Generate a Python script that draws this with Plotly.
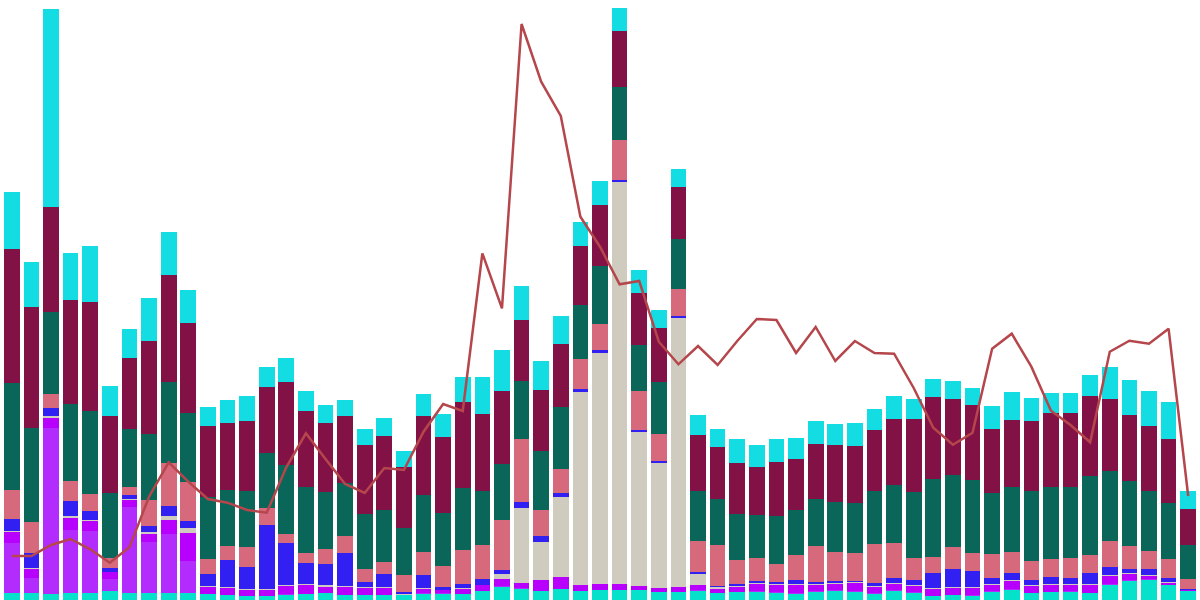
import plotly.graph_objects as go

periods = list(range(1, 62))

turquoise = [7.3,7.3,6.3,7.3,7.3,9.3,7.3,7.3,7.3,7.3, 6,5,4,4,5.3,6,7,5,5,5,
             5,6.3,6.3,6,9,13.5,11.5,9,11,9, 10,10,10,8,8,9.5,7,8,8,7,
             6,8,9,8,6,9,7,4,5,4.5, 8,10,7,8,8,7,15,19,20,15, 9]
light_purple = [50,15,166,62.7,61.7,11.7,85.7,50.7,58.7,31.7, 0.5,0.5,0.5,0.5,0.5,0.5,0.5,0.5,0.5,0.5,
                0.3,0.5,0.5,0.5,0.5,0.5,0.5,0.5,0.5,0.5, 0.5,0.5,0.5,0.5,0.5,0.5,0.5,0.5,1,1,
                1,1,1,1,1,1,1,0.5,0.5,0.5, 1,1,0.5,0.5,1,0.5,1,1,1,0.5, 0.5]
bright_purple = [11,8.7,10,12,10.3,7,7,8.3,14,28, 6.8,6.5,5.8,6.2,8.5,8.5,5.8,7.5,6.8,7.2,
                 0.3,4.2,3.2,4.5,5.5,7,5,10.5,11.5,5.5, 5.5,5.5,3.5,3.5,4.5,5,3.5,4.5,7,7.5,
                 8,6.5,6.5,8,6.5,6,6,7,7,7.5, 6,8.5,7,6.5,6.5,8,8.5,6.5,3.5,2.2, 0.5]
beige = [0.7,1,1.7,2,0.7,0.3,1,1.7,4.3,5, 0.7,0.7,0.7,0.3,0.7,1,1.7,1,0.7,0.3,
         0.7,1,0.3,1,0.5,5,75,38,80,193, 231,402,154,125,269,11,2,1,1,0.5,
         1,0.5,0.5,1,0.5,1,1,0.5,0.5,0.5, 1,0.5,0.5,1,0.5,0.5,0.5,0.5,0.5,0.3, 0.3]
blue = [12,15.3,8,15,9,4,4,6.3,9.7,7, 12,27.3,22,64,42,21,21,33,5,13,
        2,13,2.7,4,5.5,4,6,6,4,3, 3,2,2,2,2,2,1,2,2,2,
        4,2,2,1,3,5,5,15,18,16, 6,7,5,7,6,11,8,4,6,4, 0.7]
pink = [29,31,14,20,17,9.4,8.3,26,43.3,39, 15,14.3,20,17,9,10,15,17.3,13,12,
        16.7,23,21,34,34,50,63,26,24,30, 26,40,39,27,27,31,41,24,23,18,
        25,36,29,28,39,35,22,16,22,18, 24,21,19,18,20,18,26,23,18,19, 10]
green = [107,94,82.3,77,83,65,57.7,66,81,69.3, 61.7,55.7,56,55,69,65.7,57,52.7,55,52,
         47.3,56.7,53,62,54,56,58,59,62,54, 58,53,46,52,50,50,46,46,43,48,
         45,47,50,50,53,58,66,78,72,73, 61,65,70,72,71,79,70,65,60,56, 34]
maroon = [134,120.7,105,104,109,77.6,71.3,93,106.7,90, 71.3,67,70,65.7,83,76.3,69,67,69,74,
          60.7,79.3,76,86,77,73,61,61,63,59, 61,56,52,54,52,56,52,51,48,54,
          51,55,57,57,61,66,73,82,76,75, 64,67,70,74,74,80,72,66,65,64, 36]
cyan = [57,45,197.7,47,56,29.7,28.7,42.7,43,32.7, 19,23,25,20.3,24,20,18,16,16,18,
        16,22,23,25,37,41,34,29,28,24, 24,23,23,18,18,20,18,24,22,23,
        21,23,21,23,21,23,20,18,18,17, 23,28,23,20,20,21,32,35,35,37, 18]
line_values = [44,44,55,61,50.7,37.3,52.7,103.3,137.7,118.3, 101,97.3,90,87.3,132.7,166.7,141,116,107,132,
               130,168.3,196,189,346.7,291.7,576,518.3,484,383.3, 353.3,315.7,319,258.3,235.7,254,235,259,281,280,
               247,273,239,259,247,246.3,212,172.3,155.3,167.3, 251.3,266.3,233.3,189.3,175,157.7,248.3,259.3,256.3,271.3,
               104]

series = [
    ("A", turquoise, "#06e1cb"),
    ("B", light_purple, "#b32cfe"),
    ("C", bright_purple, "#b700fe"),
    ("D", beige, "#cfccbf"),
    ("E", blue, "#3220f2"),
    ("F", pink, "#d66a7c"),
    ("G", green, "#0a6659"),
    ("H", maroon, "#821246"),
    ("I", cyan, "#14dce3"),
]

fig = go.Figure()
for name, vals, color in series:
    fig.add_trace(go.Bar(x=periods, y=vals, name=name, marker_color=color,
                         marker_line_width=0))
fig.add_trace(go.Scatter(x=periods, y=line_values, mode="lines", name="Line",
                         line=dict(color="#b5464b", width=2.5), yaxis="y2"))

fig.update_layout(
    width=1200, height=600,
    barmode="stack", bargap=0.2,
    margin=dict(l=2, r=2, t=0, b=0),
    plot_bgcolor="white", paper_bgcolor="white",
    showlegend=False,
    xaxis=dict(visible=False, range=[0.5, 61.5]),
    yaxis=dict(visible=False, range=[0, 600]),
    yaxis2=dict(visible=False, range=[0, 600], overlaying="y", side="right"),
)

fig.write_html("out.html")
